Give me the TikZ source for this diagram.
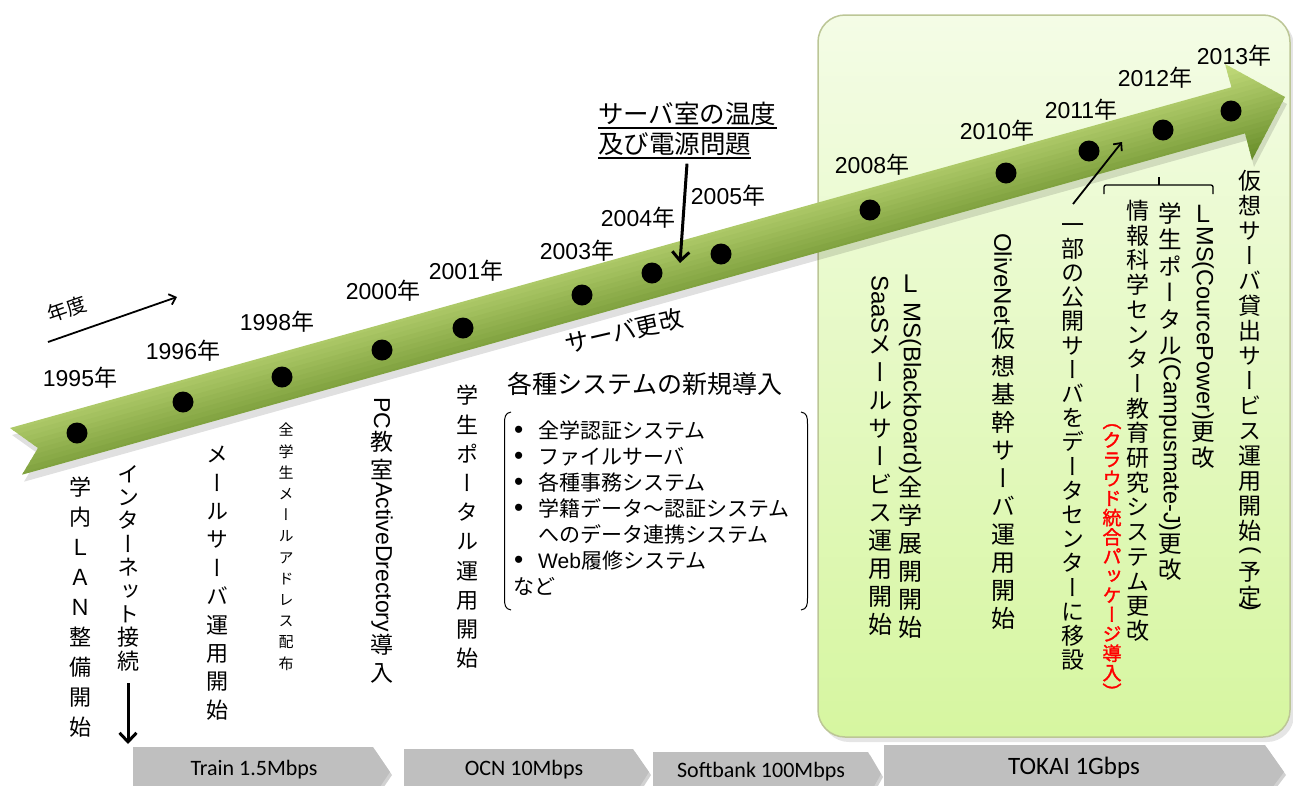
\documentclass[tikz,border=0pt]{standalone}
\usepackage{fontspec}
\usepackage{graphicx}
\usetikzlibrary{arrows.meta,calc}
\newfontfamily\jp{Noto Sans CJK JP}
\newfontfamily\jpv[RawFeature=+vert]{Noto Sans CJK JP}
\newfontfamily\jpvb[RawFeature=+vert,FakeBold=1.6]{Noto Sans CJK JP}
\newfontfamily\lib{Liberation Sans}
\newfontfamily\calib{Carlito}
\newcommand\Lt[1]{\raisebox{0.78em}{\rotatebox{-90}{\lib #1}}}
\newcommand\Bu{\makebox[25pt][l]{\hspace{1pt}\lib\scalebox{1.25}{•}}}
\newcommand\Y[1]{{\lib #1}年}
\definecolor{gL}{RGB}{200,224,128}
\definecolor{gD}{RGB}{100,138,38}
\definecolor{boxT}{RGB}{244,252,230}
\definecolor{boxB}{RGB}{214,246,160}
\definecolor{boxE}{RGB}{188,198,150}
\definecolor{barG}{RGB}{191,191,191}
\definecolor{redT}{RGB}{255,0,0}
\begin{document}
\begin{tikzpicture}[x=1pt,y=-1pt,
  year/.style={font=\jp\fontsize{23}{26}\selectfont, inner sep=0pt},
  dot/.style={circle, fill=black, minimum size=21pt, inner sep=0pt},
  vt/.style n args={2}{anchor=north, inner sep=0pt, align=center,
     font={\jpv\fontsize{#1}{#2}\selectfont\lineskip=2pt\lineskiplimit=0pt}},
  vtb/.style n args={2}{anchor=north, inner sep=0pt, align=center,
     font={\jpvb\fontsize{#1}{#2}\selectfont\lineskip=2pt\lineskiplimit=0pt}},
  bigarrow/.style={line width=3pt, -{Straight Barb[length=9pt,width=17pt]}},
  thinarrow/.style={line width=1.8pt, -{Straight Barb[length=6pt,width=11pt]}},
  bartext/.style={font=\calib\fontsize{22}{24}\selectfont, inner sep=0pt},
  barshape/.style={fill=barG},
  barshadow/.style={fill=black, opacity=0.18}]
\useasboundingbox (0,0) rectangle (1293,785);
\clip (0,0) rectangle (1293,785);

% right rounded box
\fill[black, opacity=0.10, rounded corners=27] (822,19) rectangle (1294,742);
\shadedraw[top color=boxT, bottom color=boxB, draw=boxE, line width=1.5pt, rounded corners=27] (818,15) rectangle (1290,737);

% band shadow
\begin{scope}[shift={(2,7)}]
\fill[black, opacity=0.12] (10,428) -- (1231.5,87.2) -- (1225,64) -- (1285,97) -- (1252,160) -- (1245,133.4) -- (22,474.7) -- (38,448) -- cycle;
\end{scope}
% band
\begin{scope}
\clip (10,428) -- (1231.5,87.2) -- (1225,64) -- (1285,97) -- (1252,160) -- (1245,133.4) -- (22,474.7) -- (38,448) -- cycle;
\foreach \i in {0,...,22}{
  \pgfmathsetmacro\o{-32+5*\i}
  \pgfmathtruncatemacro\p{100*\i/22}
  \fill[gD!\p!gL] (0,{430.8+\o}) -- (1300,{68.1+\o}) -- (1300,{74.1+\o}) -- (0,{436.8+\o}) -- cycle;
}
\end{scope}

% dots
\node[dot] (d95) at (77,433) {};
\node[dot] (d96) at (183,402) {};
\node[dot] (d98) at (282,377) {};
\node[dot] (d00) at (382,350) {};
\node[dot] (d01) at (463,328) {};
\node[dot] (d03) at (582,295) {};
\node[dot] (d04) at (652,273) {};
\node[dot] (d05) at (721,254) {};
\node[dot] (d08) at (870,210) {};
\node[dot] (d10) at (1006,173) {};
\node[dot] (d11) at (1089,151) {};
\node[dot] (d12) at (1163,130) {};
\node[dot] (d13) at (1231,111) {};

% years
\node[year] (y95) at (80,378) {\Y{1995}};
\node[year] (y96) at (183,351) {\Y{1996}};
\node[year] (y98) at (277,322) {\Y{1998}};
\node[year] (y00) at (383,291) {\Y{2000}};
\node[year] (y01) at (466,271) {\Y{2001}};
\node[year] (y03) at (577,251) {\Y{2003}};
\node[year] (y04) at (638,218) {\Y{2004}};
\node[year] (y05) at (728,196) {\Y{2005}};
\node[year] (y08) at (872,165) {\Y{2008}};
\node[year] (y10) at (997,131) {\Y{2010}};
\node[year] (y11) at (1081,110) {\Y{2011}};
\node[year] (y12) at (1155,78) {\Y{2012}};
\node[year] (y13) at (1234,56) {\Y{2013}};

% nendo arrow
\node[font=\jp\fontsize{20}{22}\selectfont, rotate=19, inner sep=0pt] (nendo) at (67,309) {年度};
\coordinate (nd1) at (48,342);
\coordinate (nd2) at (177,297);
\draw[thinarrow] (nd1) -- (nd2);

% server room text
\node[anchor=north west, inner sep=0pt, font=\jp\fontsize{25.5}{30}\selectfont] (srv1) at (598,102) {サーバ室の温度};
\node[anchor=north west, inner sep=0pt, font=\jp\fontsize{25.5}{30}\selectfont] (srv2) at (598,132) {及び電源問題};
\draw[line width=1.8pt] ([yshift=-2pt]srv1.south west) -- ([yshift=-2pt]srv1.south east);
\draw[line width=1.8pt] ([yshift=-2pt]srv2.south west) -- ([yshift=-2pt]srv2.south east);
\coordinate (srvEnd) at (680,263);
\draw[bigarrow] ($(srv2.south west)+(89,8)$) -- (srvEnd);

% server renewal
\node[font=\jp\fontsize{24}{26}\selectfont, rotate=13, inner sep=0pt] (kou) at (624,331) {サーバ更改};

% systems list
\node[font=\jp\fontsize{25}{28}\selectfont, inner sep=0pt] (sys) at (645,384) {各種システムの新規導入};
\node[anchor=north west, inner sep=0pt, align=left, font=\jp\fontsize{21}{26}\selectfont] (list) at (513,421)
  {\Bu 全学認証システム\\\Bu ファイルサーバ\\\Bu 各種事務システム\\\Bu 学籍データ～認証システム\\\hspace*{25pt}へのデータ連携システム\\\Bu {\lib Web}履修システム\\など};
\draw[line width=1pt] (511,412) .. controls (505,413) and (504.5,417) .. (504.5,424) -- (504.5,598) .. controls (504.5,605) and (505,609) .. (511,610);
\draw[line width=1pt] (801,412) .. controls (807,413) and (807.5,417) .. (807.5,424) -- (807.5,598) .. controls (807.5,605) and (807,609) .. (801,610);

% vertical texts
\node[vt={22}{30}] (v1) at (80,477) {学\\内\\Ｌ\\Ａ\\Ｎ\\整\\備\\開\\始};
\node[vt={22}{23.4}] (v2) at (128,465) {イ\\ン\\タ\\ー\\ネ\\ッ\\ト\\接\\続};
\node[vt={22}{28.4}] (v3) at (217,446) {メ\\ー\\ル\\サ\\ー\\バ\\運\\用\\開\\始};
\node[vt={15}{21.2}] (v4) at (286,423) {全\\学\\生\\メ\\ー\\ル\\ア\\ド\\レ\\ス\\配\\布};
\node[vt={23}{28}] (v5) at (382,397) {\Lt{PC}\\教\\室\\[-6pt]\Lt{ActiveDrectory}\\導\\入};
\node[vt={22}{29.2}] (v6) at (467,385) {学\\生\\ポ\\ー\\タ\\ル\\運\\用\\開\\始};
\node[vt={24}{28}] (v7) at (880,275) {\Lt{SaaS}\\メ\\ー\\ル\\サ\\ー\\ビ\\ス\\運\\用\\開\\始};
\node[vt={24}{28}] (v8) at (910,275) {Ｌ\\\Lt{MS(Blackboard)}\\全\\学\\展\\開\\開\\始};
\node[vt={24}{28}] (v9) at (1003,233) {\Lt{OliveNet}\\仮\\想\\基\\幹\\サ\\ー\\バ\\運\\用\\開\\始};
\node[vt={23}{24.2}] (v10) at (1073,223) {一\\部\\の\\公\\開\\サ\\ー\\バ\\を\\デ\\ー\\タ\\セ\\ン\\タ\\ー\\に\\移\\設};
\node[vt={23}{24.7}] (v11) at (1138,200) {情\\報\\科\\学\\セ\\ン\\タ\\ー\\教\\育\\研\\究\\シ\\ス\\テ\\ム\\更\\改};
\node[vtb={19}{19.4}, text=redT] (v12) at (1112,424) {（\\ク\\ラ\\ウ\\ド\\統\\合\\パ\\ッ\\ケ\\ー\\ジ\\導\\入\\）};
\node[vt={23.5}{26.5}] (v13) at (1170,202) {学\\生\\ポ\\ー\\タ\\ル\\[-6pt]\Lt{(Campusmate-J)}\\更\\改};
\node[vt={23.5}{26.5}] (v14) at (1203,205) {Ｌ\\[-4pt]\Lt{MS(CourcePower)}\\更\\改};
\node[vt={23}{25}] (v15) at (1250,170) {仮\\想\\サ\\ー\\バ\\貸\\出\\サ\\ー\\ビ\\ス\\運\\用\\開\\始\\\Lt{(}\\[-9pt]予\\定\\[-9pt]\Lt{)}};

% group bracket
\draw[line width=1.3pt, rounded corners=2pt] (1104,194) -- (1104,185) -- (1213,185) -- (1213,194);
\draw[line width=1.3pt] (1159,185) -- (1159,177);

% arrows
\coordinate (dcEnd) at (1122,142);
\draw[thinarrow] ($(v10.north)+(0,-19)$) -- (dcEnd);
\coordinate (inetEnd) at (128,744);
\draw[bigarrow] ($(v2.south)+(0,12)$) -- (inetEnd);

% bottom bars
\begin{scope}[shift={(2,3)}]
\fill[barshadow] (133,747) -- (373,747) -- (390,772) -- (373,797) -- (133,797) -- cycle;
\fill[barshadow] (404,749) -- (633,749) -- (649,772) -- (633,797) -- (404,797) -- cycle;
\fill[barshadow] (653,752) -- (868,752) -- (881,774) -- (868,797) -- (653,797) -- cycle;
\fill[barshadow] (884,745) -- (1265,745) -- (1284,772) -- (1265,797) -- (884,797) -- cycle;
\end{scope}
\fill[barshape] (133,747) -- (373,747) -- (390,772) -- (373,797) -- (133,797) -- cycle;
\fill[barshape] (404,749) -- (633,749) -- (649,772) -- (633,797) -- (404,797) -- cycle;
\fill[barshape] (653,752) -- (868,752) -- (881,774) -- (868,797) -- (653,797) -- cycle;
\fill[barshape] (884,745) -- (1265,745) -- (1284,772) -- (1265,797) -- (884,797) -- cycle;
\node[bartext] (train) at (254,770) {Train 1.5Mbps};
\node[bartext] (ocn) at (524,770) {OCN 10Mbps};
\node[bartext] (soft) at (761,772) {Softbank 100Mbps};
\node[bartext, font=\calib\fontsize{25}{27}\selectfont] (tokai) at (1074,768) {TOKAI 1Gbps};
\end{tikzpicture}
\end{document}
